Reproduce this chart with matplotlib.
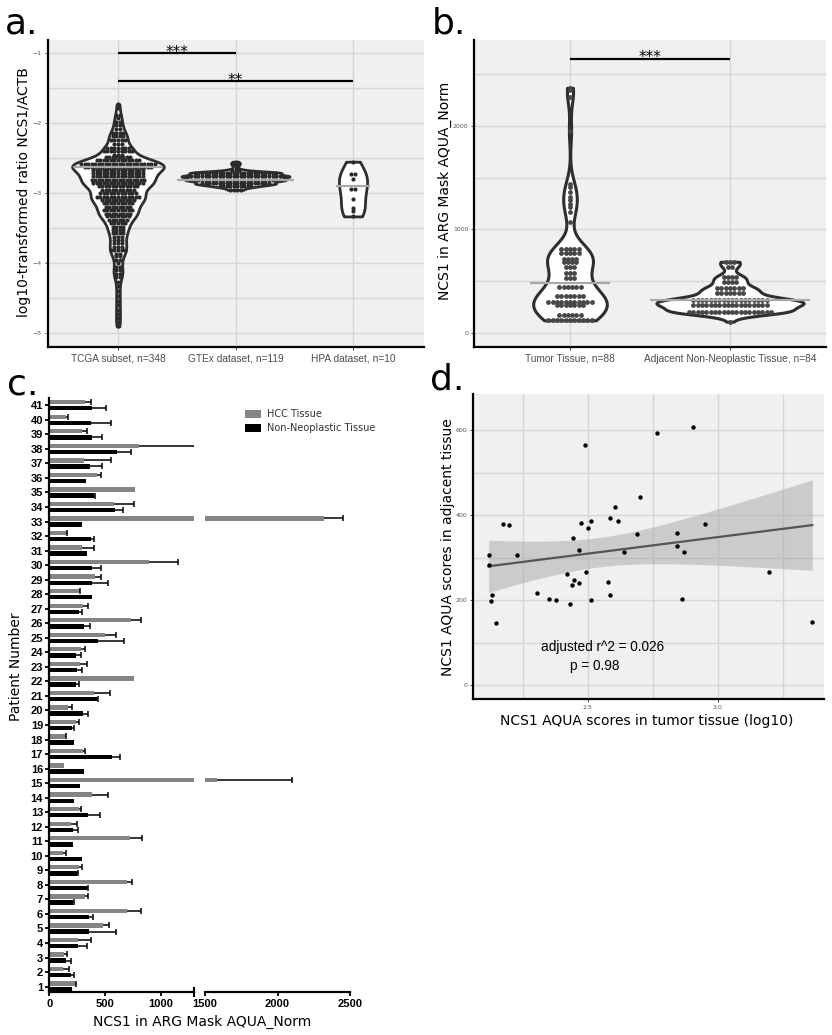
import numpy as np
import matplotlib
matplotlib.use('Agg')
import matplotlib.pyplot as plt
from matplotlib.patches import Patch

# ---------------- data ----------------
# panel a : dot-plot rows (bin value, number of dots)
a_categories = ['TCGA subset, n=348', 'GTEx dataset, n=119', 'HPA dataset, n=10']
tcga_levels = [-1.73, -1.78, -1.88, -1.93, -1.98, -2.03, -2.08, -2.14, -2.19, -2.24, -2.30, -2.35,
               -2.40, -2.45, -2.49, -2.53, -2.58, -2.62, -2.67, -2.71, -2.76, -2.81, -2.86, -2.90,
               -2.95, -3.00, -3.05, -3.10, -3.14, -3.19, -3.24, -3.29, -3.33, -3.38, -3.43, -3.48,
               -3.52, -3.57, -3.62, -3.67, -3.71, -3.76, -3.81, -3.86, -3.90, -3.95, -4.00, -4.05,
               -4.10, -4.15, -4.20, -4.27, -4.33, -4.40, -4.47, -4.53, -4.60, -4.66, -4.72, -4.78,
               -4.84, -4.90]
tcga_counts = [1, 1, 2, 1, 2, 2, 2, 4, 4, 5, 3, 7,
               9, 3, 8, 13, 22, 20, 15, 15, 15, 16, 15, 12,
               10, 11, 13, 10, 9, 8, 9, 8, 7, 6, 5, 4,
               4, 4, 3, 3, 3, 3, 5, 2, 2, 2, 1, 2,
               2, 2, 2, 1, 1, 1, 1, 1, 1, 1, 1, 1,
               1, 1]
gtex_levels = [-2.55, -2.58, -2.62, -2.67, -2.71, -2.76, -2.81, -2.86, -2.90, -2.95]
gtex_counts = [1, 2, 1, 3, 24, 28, 26, 20, 10, 4]
hpa_levels = [-2.55, -2.73, -2.80, -2.94, -3.08, -3.21, -3.26, -3.33]
hpa_counts = [1, 2, 1, 2, 1, 1, 1, 1]
a_medians = [-2.62, -2.81, -2.89]

# panel b
b_categories = ['Tumor Tissue, n=88', 'Adjacent Non-Neoplastic Tissue, n=84']
tumor_levels = [2365, 2340, 2280, 1950, 1440, 1410, 1360, 1315, 1280, 1250, 1215, 1170, 1075,
                810, 770, 720, 690, 640, 580, 530, 450, 355, 305, 270, 175, 125]
tumor_counts = [1, 1, 1, 1, 1, 1, 1, 1, 1, 1, 1, 1, 1,
                5, 5, 4, 4, 3, 3, 3, 6, 7, 11, 7, 6, 11]
adj_levels = [689, 641, 545, 497, 433, 385, 320, 272, 208, 112]
adj_counts = [3, 2, 4, 4, 7, 7, 18, 18, 20, 1]
b_medians = [481, 320]

# panel c (patients 1..41)
patients = list(range(1, 42))
hcc_mean = [230, 126, 132, 254, 485, 700, 320, 695, 266, 126, 725, 195, 266, 380, 1585, 132,
            305, 141, 236, 165, 401, 760, 272, 284, 500, 734, 305, 266, 410, 895, 290, 147,
            2319, 581, 770, 431, 314, 808, 290, 150, 320]
hcc_err = [6, 51, 30, 120, 54, 126, 30, 50, 30, 27, 110, 56, 18, 144, 518, 0,
           18, 9, 30, 35, 144, 0, 66, 39, 99, 86, 45, 9, 54, 258, 111, 9,
           136, 176, 0, 33, 243, 592, 51, 15, 51]
non_mean = [200, 195, 147, 260, 356, 356, 216, 335, 245, 296, 210, 216, 344, 225, 275, 314,
            560, 225, 200, 305, 428, 240, 251, 240, 440, 314, 266, 380, 386, 380, 335, 374,
            296, 590, 398, 326, 365, 605, 380, 371, 380]
non_err = [0, 30, 45, 75, 240, 39, 9, 15, 15, 0, 0, 41, 111, 0, 0, 0,
           75, 0, 25, 45, 6, 29, 39, 41, 231, 54, 30, 0, 138, 81, 0, 27,
           0, 69, 12, 0, 111, 126, 96, 183, 129]
c_legend = ['HCC Tissue', 'Non-Neoplastic Tissue']

# panel d
d_tumor_log = [2.118, 2.121, 2.126, 2.131, 2.146, 2.173, 2.196, 2.228, 2.304, 2.351, 2.378,
               2.418, 2.431, 2.440, 2.444, 2.445, 2.465, 2.467, 2.472, 2.487, 2.491, 2.500,
               2.512, 2.513, 2.579, 2.585, 2.585, 2.606, 2.615, 2.637, 2.688, 2.701, 2.765,
               2.844, 2.844, 2.862, 2.868, 2.906, 2.951, 3.196, 3.363]
d_adjacent = [307, 283, 197, 211, 147, 379, 377, 305, 216, 203, 199,
              262, 190, 236, 346, 247, 240, 318, 382, 564, 266, 369,
              201, 385, 242, 392, 213, 418, 387, 313, 356, 442, 593,
              358, 327, 203, 314, 608, 380, 266, 149]
T_975_DF39 = 2.0227
d_text = ['adjusted r^2 = 0.026', 'p = 0.98']

# ---------------- figure ----------------
W, H = 832, 1035
fig = plt.figure(figsize=(W / 100, H / 100), dpi=100)
fig.patch.set_facecolor('white')


def box(l, t, r, b):
    return [l / W, 1 - b / H, (r - l) / W, (b - t) / H]


BG = '#f0f0f0'
GRID = '#d6d6d6'


def gg_style(ax):
    ax.set_facecolor(BG)
    for s in ['top', 'right']:
        ax.spines[s].set_visible(False)
    for s in ['left', 'bottom']:
        ax.spines[s].set_color('black')
        ax.spines[s].set_linewidth(1.6)
    ax.grid(True, which='both', color=GRID, lw=1.0)
    ax.set_axisbelow(True)
    ax.tick_params(which='major', length=2.5, width=0.6, color='#333333',
                   labelsize=4.5, labelcolor='#555555', pad=1.5)
    ax.tick_params(which='minor', length=0)


def nrd0_factor(v, adjust):
    v = np.asarray(v, dtype=float)
    sd = v.std(ddof=1)
    q75, q25 = np.percentile(v, [75, 25])
    bw = 0.9 * min(sd, (q75 - q25) / 1.34) * len(v) ** -0.2
    return adjust * bw / sd


def draw_violin(ax, vals, pos, width, lw, adjust):
    parts = ax.violinplot([vals], positions=[pos], widths=width, showextrema=False,
                          showmeans=False, showmedians=False,
                          bw_method=nrd0_factor(vals, adjust), points=400)
    for b in parts['bodies']:
        b.set_facecolor('white')
        b.set_edgecolor('#2e2e2e')
        b.set_linewidth(lw)
        b.set_alpha(1)
        b.set_zorder(2)
        b.set_joinstyle('round')


def draw_dots(ax, levels, counts, pos, dx, s, color):
    xs, ys = [], []
    for lv, n in zip(levels, counts):
        off = (np.arange(n) - (n - 1) / 2) * dx
        xs.extend(pos + off)
        ys.extend([lv] * n)
    ax.scatter(xs, ys, s=s, c=color, linewidths=0, zorder=3)


def sig_bar(ax, x0, x1, y, label):
    ax.plot([x0, x1], [y, y], color='black', lw=1.6, zorder=5, solid_capstyle='butt')
    ax.annotate(label, ((x0 + x1) / 2, y), xytext=(0, -2.6), textcoords='offset points',
                ha='center', va='baseline', fontsize=11, color='black')


# ---------- panel a ----------
axA = fig.add_axes(box(47.5, 40, 423.5, 346.5))
gg_style(axA)
axA.set_xlim(0.4, 3.6)
axA.set_ylim(-5.186, -0.814)
axA.set_yticks([-5, -4, -3, -2, -1])
axA.set_yticks([-4.5, -3.5, -2.5, -1.5], minor=True)
axA.set_xticks([1, 2, 3])
axA.set_xticklabels(a_categories, fontsize=7.3, family='Liberation Sans', color='#4d4d4d')
axA.tick_params(axis='x', pad=2.5)

a_sets = [(tcga_levels, tcga_counts), (gtex_levels, gtex_counts), (hpa_levels, hpa_counts)]
a_widths = [0.78, 0.92, 0.24]
a_adjust = [0.5, 0.8, 1.0]
a_med_hw = [0.38, 0.5, 0.145]
for i, (lv, ct) in enumerate(a_sets):
    vals = np.repeat(lv, ct)
    draw_violin(axA, vals, i + 1, a_widths[i], 2.0, a_adjust[i])
    draw_dots(axA, lv, ct, i + 1, 0.03, 9, '#2b2b2b')
    axA.hlines(a_medians[i], i + 1 - a_med_hw[i], i + 1 + a_med_hw[i],
               color='#a8a8a8', lw=1.6, zorder=4)
sig_bar(axA, 1, 2, -1.0, '***')
sig_bar(axA, 1, 3, -1.4, '**')

# ---------- panel b ----------
axB = fig.add_axes(box(474, 40, 826, 347))
gg_style(axB)
axB.set_xlim(0.4, 2.6)
axB.set_ylim(-132, 2825)
axB.set_yticks([0, 1000, 2000])
axB.set_yticks([500, 1500, 2500], minor=True)
axB.set_xticks([1, 2])
axB.set_xticklabels(b_categories, fontsize=7.3, family='Liberation Sans', color='#4d4d4d')
axB.tick_params(axis='x', pad=2.5)
b_sets = [(tumor_levels, tumor_counts), (adj_levels, adj_counts)]
b_widths = [0.46, 0.92]
b_adjust = [0.85, 1.0]
b_med_hw = [0.25, 0.5]
for i, (lv, ct) in enumerate(b_sets):
    vals = np.repeat(lv, ct)
    draw_violin(axB, vals, i + 1, b_widths[i], 2.2, b_adjust[i])
    draw_dots(axB, lv, ct, i + 1, 0.027, 12, '#474747')
    axB.hlines(b_medians[i], i + 1 - b_med_hw[i], i + 1 + b_med_hw[i],
               color='#a8a8a8', lw=1.6, zorder=4)
sig_bar(axB, 1, 2, 2644, '***')

# ---------- panel c ----------
axC1 = fig.add_axes(box(49.3, 398, 194, 991.7))
axC2 = fig.add_axes(box(205, 398, 350, 991.7), sharey=axC1)
pos = np.array(patients, dtype=float)
hm, he = np.array(hcc_mean, float), np.array(hcc_err, float)
nm, ne = np.array(non_mean, float), np.array(non_err, float)
for ax in (axC1, axC2):
    ax.set_facecolor('white')
    for s in ['top', 'right', 'left']:
        ax.spines[s].set_visible(False)
    ax.spines['bottom'].set_linewidth(1.6)
    ax.barh(pos + 0.21, hm, height=0.3, color='#858585', zorder=2)
    ax.barh(pos - 0.21, nm, height=0.3, color='black', zorder=2)
    for yy, m, e in ((pos + 0.21, hm, he), (pos - 0.21, nm, ne)):
        mk = e > 0
        ax.hlines(yy[mk], m[mk], m[mk] + e[mk], color='black', lw=1.1, zorder=3)
        ax.scatter(m[mk] + e[mk], yy[mk], marker='|', s=14, c='black', linewidths=1.1, zorder=3)
    ax.tick_params(axis='x', which='major', length=3, width=1.3, labelsize=8, pad=2)
    ax.tick_params(axis='x', which='minor', direction='inout', length=7, width=1.5)
axC1.spines['left'].set_visible(True)
axC1.spines['left'].set_linewidth(1.6)
axC1.set_xlim(0, 1300)
axC2.set_xlim(1500, 2500)
axC1.set_ylim(0.65, 41.5)
axC1.set_xticks([0, 500, 1000])
axC1.set_xticks([1300], minor=True)
axC2.set_xticks([1500, 2000, 2500])
axC2.set_xticks([1500], minor=True)
axC1.set_yticks(patients)
axC1.set_yticklabels([str(p) for p in patients])
axC1.tick_params(axis='y', length=3, width=1.3, labelsize=8, pad=1.5)
axC2.tick_params(axis='y', left=False, labelleft=False)
for ax in (axC1, axC2):
    for lab in ax.get_xticklabels() + ax.get_yticklabels():
        lab.set_fontweight('bold')
        lab.set_family('Liberation Sans')
fig.legend(handles=[Patch(facecolor='#858585', label=c_legend[0]),
                    Patch(facecolor='black', label=c_legend[1])],
           loc='upper left', bbox_to_anchor=(245 / W, 1 - 409 / H), frameon=False,
           fontsize=7, handlelength=1.6, handleheight=0.85, labelspacing=0.45,
           handletextpad=0.7, borderaxespad=0, borderpad=0, labelcolor='#333333')

# ---------- panel d ----------
axD = fig.add_axes(box(473, 394, 824, 699))
gg_style(axD)
axD.set_xlim(2.058, 3.408)
axD.set_ylim(-33, 685)
axD.set_xticks([2.5, 3.0])
axD.set_xticklabels(['2.5', '3.0'])
axD.set_xticks([2.25, 2.75, 3.25], minor=True)
axD.set_yticks([0, 200, 400, 600])
axD.set_yticks([100, 300, 500], minor=True)
x = np.array(d_tumor_log)
y = np.array(d_adjacent, dtype=float)
slope, intercept = np.polyfit(x, y, 1)
xx = np.linspace(x.min(), x.max(), 200)
yhat = intercept + slope * xx
resid = y - (intercept + slope * x)
n = len(x)
s_err = np.sqrt(np.sum(resid ** 2) / (n - 2))
sxx = np.sum((x - x.mean()) ** 2)
ci = T_975_DF39 * s_err * np.sqrt(1 / n + (xx - x.mean()) ** 2 / sxx)
axD.fill_between(xx, yhat - ci, yhat + ci, color='#a0a0a0', alpha=0.45, lw=0, zorder=2)
axD.plot(xx, yhat, color='#555555', lw=1.6, zorder=3)
axD.scatter(x, y, s=10, c='black', linewidths=0, zorder=4)
axD.text(2.556, 90, d_text[0], ha='center', va='center', fontsize=9.8, family='Liberation Sans')
axD.text(2.526, 45, d_text[1], ha='center', va='center', fontsize=9.8, family='Liberation Sans')

# ---------- axis titles & panel letters ----------
fig.text(24 / W, 1 - 192 / H, 'log10-transformed ratio NCS1/ACTB', rotation=90,
         ha='center', va='center', fontsize=10)
fig.text(445 / W, 1 - 191 / H, 'NCS1 in ARG Mask AQUA_Norm', rotation=90,
         ha='center', va='center', fontsize=10)
fig.text(16 / W, 1 - 667 / H, 'Patient Number', rotation=90,
         ha='center', va='center', fontsize=10)
fig.text(202 / W, 1 - 1022 / H, 'NCS1 in ARG Mask AQUA_Norm',
         ha='center', va='center', fontsize=10)
fig.text(448 / W, 1 - 547 / H, 'NCS1 AQUA scores in adjacent tissue', rotation=90,
         ha='center', va='center', fontsize=10)
fig.text(647 / W, 1 - 721 / H, 'NCS1 AQUA scores in tumor tissue (log10)',
         ha='center', va='center', fontsize=10)
for lab, px, py in [('a.', 5, 33), ('b.', 432, 33), ('c.', 7, 395), ('d.', 430, 389)]:
    fig.text(px / W, 1 - py / H, lab, ha='left', va='baseline', fontsize=26)

fig.savefig('out.png', dpi=100)
